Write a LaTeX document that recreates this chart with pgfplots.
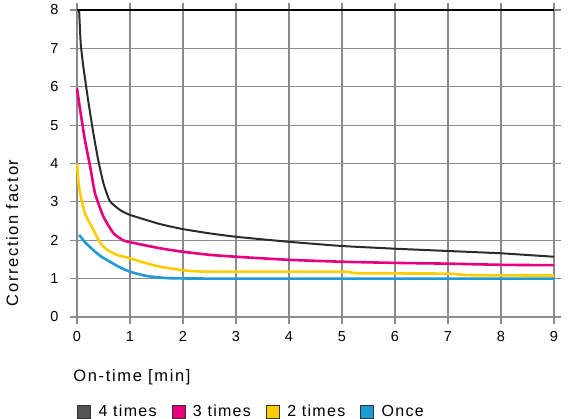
\documentclass[border=0pt]{standalone}
\usepackage{fontspec}
\setmainfont{Liberation Sans}
\newfontfamily\labfont[LetterSpace=10]{Liberation Sans}
\newfontfamily\legfont[LetterSpace=8]{Liberation Sans}
\usepackage{pgfplots}
\pgfplotsset{compat=1.18}
\definecolor{cblack}{HTML}{2B2B2B}
\definecolor{clegblack}{HTML}{555555}
\definecolor{cmag}{HTML}{E6007E}
\definecolor{cyel}{HTML}{FFCC00}
\definecolor{cblue}{HTML}{1E9BD7}
\definecolor{cgrid}{HTML}{8A8A8A}
\begin{document}
\begin{tikzpicture}
\useasboundingbox (-77bp,-102bp) rectangle (493bp,317bp);
\begin{axis}[
  scale only axis,
  width=477bp, height=307bp,
  at={(0,0)}, anchor=south west,
  xmin=0, xmax=9, ymin=0, ymax=8,
  xtick={0,...,9}, ytick={0,...,8},
  grid=major,
  major grid style={cgrid, line width=1.1bp},
  axis line style={cgrid, line width=1.1bp},
  tick style={cgrid, line width=1.1bp},
  tick align=outside,
  major tick length=7bp,
  tick label style={font=\fontsize{14.5bp}{16bp}\selectfont},
  /pgf/number format/assume math mode=true,
  xticklabel style={yshift=-4bp},
  yticklabel style={xshift=-8bp},
  xlabel={\labfont\fontsize{16.5bp}{18bp}\selectfont On-time [min]},
  ylabel={\labfont\fontsize{16.5bp}{18bp}\selectfont Correction factor},
  xlabel style={at={(axis description cs:-0.008,-0.195)}, anchor=west, inner sep=0pt},
  ylabel style={at={(axis description cs:-0.136,0.274)}, anchor=center, inner sep=0pt},
  legend columns=-1,
  legend style={draw=none, fill=none, at={(axis description cs:0,-0.308)}, anchor=west,
    inner sep=0pt, font=\legfont\fontsize{16bp}{18bp}\selectfont,
    /tikz/every even column/.append style={column sep=13bp}},
  extra description/.code={\draw[black, line width=1.6bp] (0,1)--(1,1);},
  clip=false,
]
\addplot[cblack, line width=2bp, smooth, tension=0.3,
  legend image code/.code={\draw[draw=black!80, fill=clegblack, line width=0.8bp] (0bp,-6.5bp) rectangle (13bp,6.5bp);\path[draw=none,fill=none] (13bp,0bp) -- (19bp,0bp);}]
coordinates {(0.04,8) (0.07,7.13) (0.12,6.52) (0.21,5.65) (0.31,4.78) (0.40,4.09) (0.50,3.48) (0.62,3.02) (0.81,2.79) (1.0,2.66) (1.57,2.42) (2.0,2.29) (2.5,2.18) (3,2.09) (4,1.96) (5,1.85) (6,1.78) (7,1.72) (8,1.66) (9,1.57)};
\addlegendentry{4 times}
\addplot[cmag, line width=2.6bp, smooth, tension=0.3,
  legend image code/.code={\draw[draw=black!80, fill=cmag, line width=0.8bp] (0bp,-6.5bp) rectangle (13bp,6.5bp);\path[draw=none,fill=none] (13bp,0bp) -- (19bp,0bp);}]
coordinates {(0,5.96) (0.06,5.39) (0.15,4.61) (0.25,3.91) (0.34,3.22) (0.5,2.61) (0.69,2.18) (0.87,2.0) (1.0,1.95) (1.57,1.79) (2,1.70) (2.5,1.62) (3,1.57) (4,1.49) (5,1.44) (6,1.41) (7,1.39) (8,1.36) (9,1.35)};
\addlegendentry{3 times}
\addplot[cyel, line width=2.6bp, smooth, tension=0.3,
  legend image code/.code={\draw[draw=black!80, fill=cyel, line width=0.8bp] (0bp,-6.5bp) rectangle (13bp,6.5bp);\path[draw=none,fill=none] (13bp,0bp) -- (19bp,0bp);}]
coordinates {(0,4.0) (0.03,3.48) (0.06,3.22) (0.15,2.7) (0.31,2.27) (0.43,1.95) (0.56,1.76) (0.75,1.62) (1.0,1.53) (1.31,1.40) (1.57,1.31) (2,1.22) (2.47,1.18) (5,1.18) (5.3,1.14) (7,1.13) (7.4,1.09) (9,1.08)};
\addlegendentry{2 times}
\addplot[cblue, line width=2.6bp, smooth, tension=0.3,
  legend image code/.code={\draw[draw=black!80, fill=cblue, line width=0.8bp] (0bp,-6.5bp) rectangle (13bp,6.5bp);\path[draw=none,fill=none] (13bp,0bp) -- (19bp,0bp);}]
coordinates {(0.04,2.14) (0.15,1.95) (0.31,1.74) (0.45,1.58) (0.62,1.44) (0.8,1.30) (1.0,1.18) (1.31,1.07) (1.75,1.01) (3,1.0) (9,1.0)};
\addlegendentry{Once}
\end{axis}
\end{tikzpicture}
\end{document}
